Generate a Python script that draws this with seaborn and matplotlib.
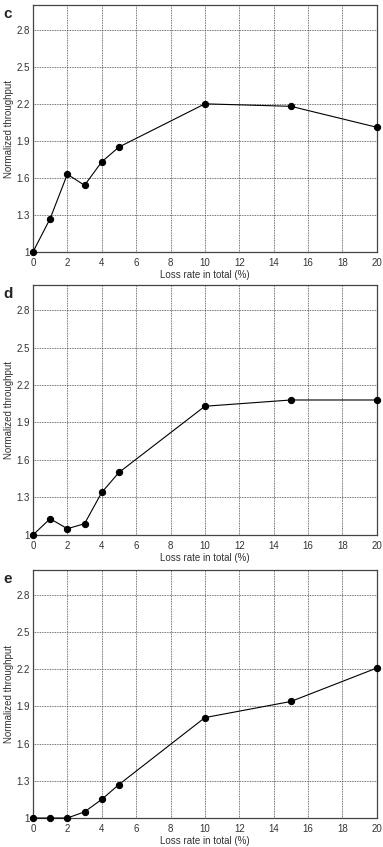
import matplotlib
matplotlib.use("Agg")
import matplotlib.pyplot as plt
import pandas as pd
import seaborn as sns

loss_rate = [0, 1, 2, 3, 4, 5, 10, 15, 20]
throughput_c = [1.0, 1.27, 1.63, 1.54, 1.73, 1.85, 2.20, 2.18, 2.01]
throughput_d = [1.0, 1.13, 1.05, 1.09, 1.34, 1.50, 2.03, 2.08, 2.08]
throughput_e = [1.0, 1.0, 1.0, 1.05, 1.15, 1.27, 1.81, 1.94, 2.21]
panel_names = ["c", "d", "e"]
x_ticks = [0, 2, 4, 6, 8, 10, 12, 14, 16, 18, 20]
y_ticks = [1, 1.3, 1.6, 1.9, 2.2, 2.5, 2.8]
y_tick_labels = ["1", "1.3", "1.6", "1.9", "2.2", "2.5", "2.8"]

sns.set_style("white")
plt.rcParams["font.family"] = ["Liberation Sans", "DejaVu Sans"]

fig = plt.figure(figsize=(3.83, 8.47), dpi=100)
# axes boxes in figure fractions: (bottom, top)
boxes = [(0.7025, 0.994), (0.3684, 0.6635), (0.0342, 0.327)]

for name, ys, (b, t) in zip(panel_names, [throughput_c, throughput_d, throughput_e], boxes):
    ax = fig.add_axes([0.086, b, 0.898, t - b])
    df = pd.DataFrame({"loss": loss_rate, "thr": ys})
    sns.lineplot(data=df, x="loss", y="thr", ax=ax, color="black", linewidth=0.8,
                 marker="o", markersize=4.5, markeredgecolor="black", clip_on=False, zorder=5)
    ax.set_xlim(0, 20)
    ax.set_ylim(1, 3)
    ax.set_xticks(x_ticks)
    ax.set_yticks(y_ticks)
    ax.set_yticklabels(y_tick_labels)
    ax.grid(True, color="#444444", linestyle=(0, (1, 1)), linewidth=0.6)
    ax.tick_params(direction="in", length=0, labelsize=7, colors="#333333")
    ax.tick_params(axis="x", pad=4)
    ax.tick_params(axis="y", pad=2)
    for s in ax.spines.values():
        s.set_color("#444444")
        s.set_linewidth(0.9)
    ax.set_xlabel("Loss rate in total (%)", fontsize=7, labelpad=2, color="#333333")
    ax.set_ylabel("Normalized throughput", fontsize=7, labelpad=2, color="#333333")
    fig.text(0.008, t - 0.002, name, fontsize=11, fontweight="bold", va="top", ha="left")

fig.savefig("out.png", dpi=100)
